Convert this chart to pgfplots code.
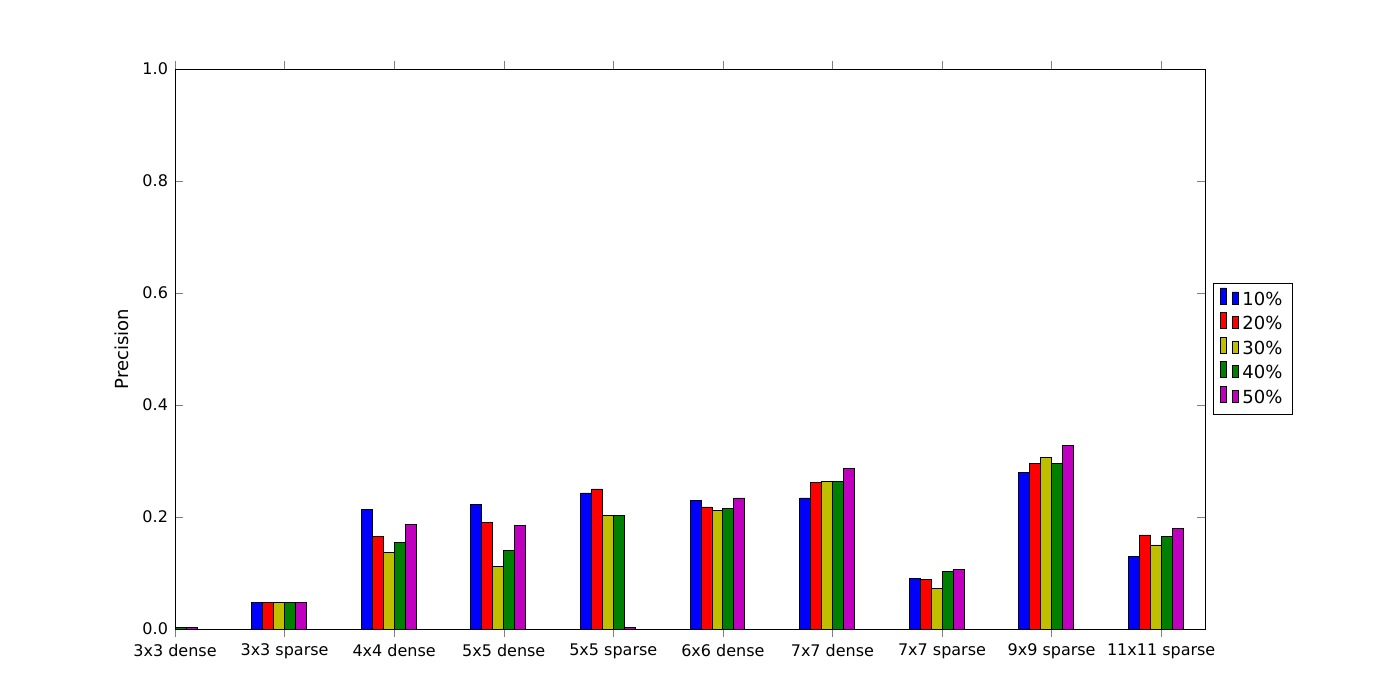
\documentclass[border=0pt]{standalone}
\usepackage{pgfplots}
\pgfplotsset{compat=1.18}
\usepackage{fontspec}
\setmainfont{DejaVu Sans}
\definecolor{cy}{rgb}{0.75,0.75,0}
\definecolor{cg}{rgb}{0,0.5,0}
\definecolor{cm}{rgb}{0.75,0,0.75}
\begin{document}
\begin{tikzpicture}
\path (0,0) rectangle (700pt,350pt);
\begin{axis}[at={(87.5pt,35.5pt)},anchor=south west,
 scale only axis,width=515pt,height=280pt,
 xmin=0,xmax=9.4,ymin=0,ymax=1,
 xtick={0,...,9},
 xticklabels={3x3 dense,3x3 sparse,4x4 dense,5x5 dense,5x5 sparse,6x6 dense,7x7 dense,7x7 sparse,9x9 sparse,11x11 sparse},
 ytick={0,0.2,...,1.0},
 yticklabel style={/pgf/number format/.cd,fixed,fixed zerofill,precision=1},
 /pgf/number format/assume math mode=true,
 tick align=inside, tick pos=both,
 major tick length=4pt,
 tick label style={font=\fontsize{8}{10}\selectfont},
 ylabel={Precision}, ylabel style={font=\fontsize{9}{11}\selectfont},
 legend style={at={(1.008,0.5)},anchor=west,font=\fontsize{9}{11}\selectfont,draw=black,rounded corners=0pt,row sep=0pt},
 legend image code/.code={\draw[#1,draw=black] (0cm,-0.1cm) rectangle (0.6cm,0.1cm);},
 ybar, bar width=0.1, bar shift=0pt, clip=true]
\addplot[fill=blue,draw=black] coordinates {(-0.25,0.002)(0.75,0.048)(1.75,0.213)(2.75,0.222)(3.75,0.243)(4.75,0.230)(5.75,0.234)(6.75,0.091)(7.75,0.280)(8.75,0.129)};
\addplot[fill=red,draw=black] coordinates {(-0.15,0.002)(0.85,0.048)(1.85,0.166)(2.85,0.191)(3.85,0.250)(4.85,0.218)(5.85,0.262)(6.85,0.089)(7.85,0.295)(8.85,0.168)};
\addplot[fill=cy,draw=black] coordinates {(-0.05,0.002)(0.95,0.048)(1.95,0.136)(2.95,0.112)(3.95,0.202)(4.95,0.212)(5.95,0.264)(6.95,0.073)(7.95,0.307)(8.95,0.150)};
\addplot[fill=cg,draw=black] coordinates {(0.05,0.002)(1.05,0.048)(2.05,0.154)(3.05,0.140)(4.05,0.202)(5.05,0.216)(6.05,0.264)(7.05,0.102)(8.05,0.295)(9.05,0.166)};
\addplot[fill=cm,draw=black] coordinates {(0.15,0.002)(1.15,0.048)(2.15,0.187)(3.15,0.185)(4.15,0.002)(5.15,0.234)(6.15,0.286)(7.15,0.107)(8.15,0.327)(9.15,0.179)};
\legend{10\%,20\%,30\%,40\%,50\%}
\end{axis}
\end{tikzpicture}
\end{document}
